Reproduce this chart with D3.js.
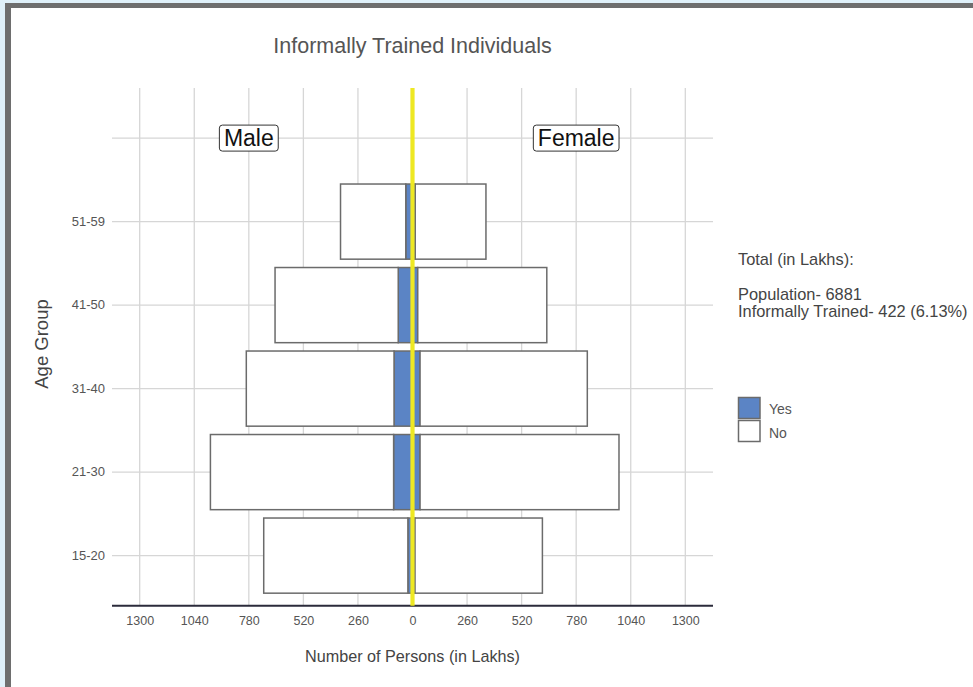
<!DOCTYPE html>
<html>
<head>
<meta charset="utf-8">
<script src="https://cdn.jsdelivr.net/npm/d3@7"></script>
<style>
  html, body { margin: 0; padding: 0; background: #fff; }
  svg { display: block; font-family: "Liberation Sans", Arial, sans-serif; }
</style>
</head>
<body>
<svg id="chart" width="973" height="687"></svg>
<script>
// ---- data ----
const ageGroups = ["15-20", "21-30", "31-40", "41-50", "51-59"];
const maleYes   = [22, 90, 88, 68, 32];
const maleNo    = [687, 873, 704, 587, 311];
const femaleYes = [12, 36, 36, 25, 13];
const femaleNo  = [607, 948, 797, 615, 337];
const xTickValues = [-1300, -1040, -780, -520, -260, 0, 260, 520, 780, 1040, 1300];
const titleText = "Informally Trained Individuals";
const totalLines = ["Total (in Lakhs):", "Population- 6881", "Informally Trained- 422 (6.13%)"];
const legendItems = ["Yes", "No"];

// ---- setup ----
const svg = d3.select("#chart");
const W = 973, H = 687;

// window frame
svg.append("rect").attr("x", 0).attr("y", 0).attr("width", W).attr("height", H).attr("fill", "#dff0f9");
svg.append("rect").attr("x", 5).attr("y", 3).attr("width", W - 5).attr("height", H - 3).attr("fill", "#6e6e6e");
svg.append("rect").attr("x", 11).attr("y", 8).attr("width", W - 11).attr("height", H - 8).attr("fill", "#ffffff");

const plot = { left: 112, right: 713, top: 88, bottom: 605.7 };
const x = d3.scaleLinear().domain([-1432, 1432]).range([plot.left, plot.right]);
const rows = ageGroups.concat(["annot"]);
const y = d3.scaleBand().domain(rows).range([plot.bottom, plot.top]).paddingInner(0).paddingOuter(0.1);
const barH = y.step() * 0.9;
const yc = d => y(d) + y.bandwidth() / 2;

const gridColor = "#d6d6d6";
const blue = "#5b84c5";
const strokeCol = "#6b6b6b";

// vertical gridlines
svg.append("g").selectAll("line").data(xTickValues).join("line")
  .attr("x1", d => x(d)).attr("x2", d => x(d))
  .attr("y1", plot.top).attr("y2", plot.bottom)
  .attr("stroke", gridColor).attr("stroke-width", 1.3);

// horizontal gridlines
svg.append("g").selectAll("line").data(rows).join("line")
  .attr("x1", plot.left).attr("x2", plot.right)
  .attr("y1", d => yc(d)).attr("y2", d => yc(d))
  .attr("stroke", gridColor).attr("stroke-width", 1.3);

// bars
const data = ageGroups.map((g, i) => ({ g, my: maleYes[i], mn: maleNo[i], fy: femaleYes[i], fn: femaleNo[i] }));
const bars = svg.append("g");
function bar(x0, x1, g, fill) {
  const a = Math.min(x(x0), x(x1)), b = Math.max(x(x0), x(x1));
  bars.append("rect")
    .attr("x", a).attr("width", b - a)
    .attr("y", yc(g) - barH / 2).attr("height", barH)
    .attr("fill", fill).attr("stroke", strokeCol).attr("stroke-width", 1.5);
}
data.forEach(d => {
  bar(-d.my, 0, d.g, blue);
  bar(-(d.my + d.mn), -d.my, d.g, "#ffffff");
  bar(0, d.fy, d.g, blue);
  bar(d.fy, d.fy + d.fn, d.g, "#ffffff");
});

// x axis
const xAxis = d3.axisBottom(x).tickValues(xTickValues).tickSize(0).tickPadding(10)
  .tickFormat(d => d3.format("d")(Math.abs(d)));
const gx = svg.append("g").attr("transform", `translate(0,${plot.bottom})`).call(xAxis);
gx.select(".domain").remove();
gx.selectAll("text").attr("fill", "#555").attr("font-size", 12.5)
  .attr("font-family", "Liberation Sans, Arial, sans-serif");
svg.append("line").attr("x1", plot.left).attr("x2", plot.right)
  .attr("y1", plot.bottom).attr("y2", plot.bottom)
  .attr("stroke", "#2b2b3b").attr("stroke-width", 2);

// y axis labels
const yAxis = d3.axisLeft(y).tickSize(0).tickPadding(7).tickFormat(d => d === "annot" ? "" : d);
const gy = svg.append("g").attr("transform", `translate(${plot.left},0)`).call(yAxis);
gy.select(".domain").remove();
gy.selectAll("text").attr("fill", "#555").attr("font-size", 13)
  .attr("font-family", "Liberation Sans, Arial, sans-serif");

// yellow zero line
svg.append("line").attr("x1", x(0)).attr("x2", x(0))
  .attr("y1", plot.top).attr("y2", plot.bottom)
  .attr("stroke", "#eee823").attr("stroke-width", 4.2);

// annotations
function annot(text, xv) {
  const g = svg.append("g");
  const t = g.append("text").attr("x", x(xv)).attr("y", yc("annot") + 8)
    .attr("text-anchor", "middle").attr("font-size", 23).attr("fill", "#111").text(text);
  const bb = t.node().getBBox();
  g.insert("rect", "text")
    .attr("x", bb.x - 4.5).attr("width", bb.width + 9)
    .attr("y", yc("annot") - 13).attr("height", 26)
    .attr("rx", 3).attr("fill", "#fff").attr("stroke", "#333").attr("stroke-width", 1);
}
annot("Male", -780);
annot("Female", 780);

// title
svg.append("text").attr("x", x(0)).attr("y", 53).attr("text-anchor", "middle")
  .attr("font-size", 21.5).attr("fill", "#555").text(titleText);

// axis titles
svg.append("text").attr("x", x(0)).attr("y", 661.5).attr("text-anchor", "middle")
  .attr("font-size", 16.2).attr("fill", "#444").text("Number of Persons (in Lakhs)");
svg.append("text").attr("transform", "translate(48,344) rotate(-90)").attr("text-anchor", "middle")
  .attr("font-size", 18.5).attr("fill", "#444").text("Age Group");

// totals text
const totalY = [265, 300, 317];
svg.append("g").selectAll("text").data(totalLines).join("text")
  .attr("x", 738).attr("y", (d, i) => totalY[i])
  .attr("font-size", 16.4).attr("fill", "#444").text(d => d);

// legend
const legendFill = [blue, "#ffffff"];
const lg = svg.append("g");
legendItems.forEach((name, i) => {
  lg.append("rect").attr("x", 738.5).attr("y", 397.5 + i * 23).attr("width", 21.5).attr("height", 21)
    .attr("fill", legendFill[i]).attr("stroke", strokeCol).attr("stroke-width", 1.5);
  lg.append("text").attr("x", 769).attr("y", 414 + i * 23.5).attr("font-size", 14).attr("fill", "#555").text(name);
});
</script>
</body>
</html>
